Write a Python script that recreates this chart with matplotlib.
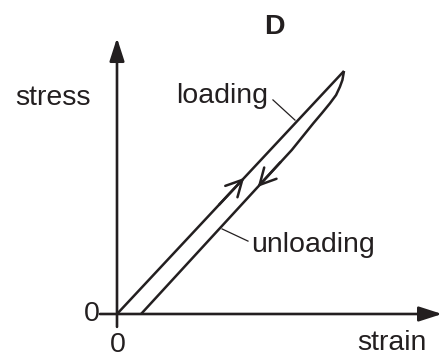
import matplotlib
matplotlib.use("Agg")
import matplotlib.pyplot as plt

plt.rcParams["font.family"] = ["Liberation Sans", "DejaVu Sans"]

# Stress-strain loop (normalised so the loading peak is at 1, 1)
LOAD_STRAIN = [0.0, 1.0]
LOAD_STRESS = [0.0, 1.0]
UNLOAD_STRAIN = [1.0, 0.993, 0.982, 0.965, 0.938, 0.903, 0.865, 0.770, 0.106]
UNLOAD_STRESS = [1.0, 0.963, 0.935, 0.901, 0.867, 0.827, 0.785, 0.675, 0.0]

# Direction chevrons: (tail, tip)
LOAD_ARROW = ((0.45, 0.45), (0.56, 0.56))
UNLOAD_ARROW = ((0.72, 0.625), (0.62, 0.523))

# Leader lines for the labels: (text end, curve end)
LOAD_LEADER = ((0.687, 0.881), (0.784, 0.798))
UNLOAD_LEADER = ((0.577, 0.300), (0.463, 0.350))

INK = "#231f20"
FS = 20.5

fig = plt.figure(figsize=(4.44, 3.58), dpi=100)
ax = fig.add_axes([0, 0, 1, 1])
ax.set_xlim(-0.5154, 1.4405)
ax.set_ylim(-0.1811, 1.2922)
ax.axis("off")

# axes with arrow heads
axis_arrow = dict(arrowstyle="-|>,head_length=1.4,head_width=0.45",
                  mutation_scale=10, color=INK, lw=1.9,
                  shrinkA=0, shrinkB=0)
ax.annotate("", xy=(1.432, 0), xytext=(-0.075, 0), arrowprops=axis_arrow)
ax.annotate("", xy=(0, 1.136), xytext=(0, -0.053), arrowprops=axis_arrow)

# loop
ax.plot(LOAD_STRAIN, LOAD_STRESS, color=INK, lw=1.8, solid_capstyle="butt")
ax.plot(UNLOAD_STRAIN, UNLOAD_STRESS, color=INK, lw=1.8,
        solid_capstyle="butt", solid_joinstyle="round")

chev = dict(arrowstyle="->,head_length=1.15,head_width=0.6",
            mutation_scale=10, color=INK, lw=1.8, shrinkA=0, shrinkB=0)
for tail, tip in (LOAD_ARROW, UNLOAD_ARROW):
    ax.annotate("", xy=tip, xytext=tail, arrowprops=chev)

# leader lines
for (a, b) in (LOAD_LEADER, UNLOAD_LEADER):
    ax.plot([a[0], b[0]], [a[1], b[1]], color=INK, lw=0.9)

# labels
ax.text(0.692, 1.183, "D", fontsize=FS, fontweight="bold", color=INK,
        ha="center", va="center")
ax.text(-0.449, 0.860, "stress", fontsize=FS, color=INK,
        ha="left", va="baseline")
ax.text(0.262, 0.868, "loading", fontsize=FS, color=INK,
        ha="left", va="baseline")
ax.text(0.591, 0.256, "unloading", fontsize=FS, color=INK,
        ha="left", va="baseline")
ax.text(1.060, -0.150, "strain", fontsize=FS, color=INK,
        ha="left", va="baseline")
ax.text(-0.112, 0.0, "0", fontsize=FS, color=INK, ha="center", va="center")
ax.text(0.004, -0.126, "0", fontsize=FS, color=INK, ha="center", va="center")

fig.savefig("out.png", dpi=100)
